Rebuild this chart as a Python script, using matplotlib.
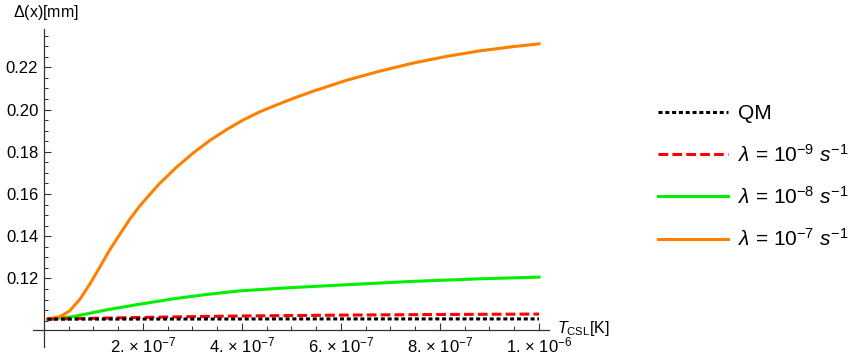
import matplotlib
matplotlib.use('Agg')
import matplotlib.pyplot as plt
from matplotlib.ticker import FixedLocator

plt.rcParams['font.family'] = ['Liberation Sans', 'DejaVu Sans']
plt.rcParams['mathtext.fontset'] = 'custom'
plt.rcParams['mathtext.rm'] = 'Liberation Sans'
plt.rcParams['mathtext.it'] = 'Liberation Sans:italic'
plt.rcParams['lines.scale_dashes'] = False

# T_CSL in units of 1e-7 K, Delta(x) in mm
t_qm = [0.07, 5.0, 10.0]
d_qm = [0.1007, 0.1008, 0.1008]

t_l9 = [0.07, 1.0, 2.0, 3.0, 4.0, 6.0, 8.0, 10.0]
d_l9 = [0.1007, 0.1011, 0.1015, 0.1019, 0.1022, 0.1026, 0.1029, 0.1031]

t_l8 = [0.09, 0.59, 0.93, 1.27, 1.94, 2.61, 3.29, 3.96, 4.97, 6.12, 7.46, 8.81, 10.0]
d_l8 = [0.1007, 0.1019, 0.1035, 0.1051, 0.1078, 0.1103, 0.1124, 0.1141, 0.1156,
        0.1170, 0.1186, 0.1198, 0.1206]

t_l7 = [0.07, 0.32, 0.52, 0.73, 0.93, 1.13, 1.33, 1.54, 1.74, 1.94, 2.14, 2.34,
        2.68, 3.02, 3.35, 3.69, 4.03, 4.36, 4.70, 5.04, 5.44, 6.12, 6.79, 7.46,
        8.14, 8.81, 9.48, 10.0]
d_l7 = [0.1007, 0.1018, 0.1046, 0.1102, 0.1174, 0.1254, 0.1335, 0.1411, 0.1482,
        0.1544, 0.1598, 0.1650, 0.1727, 0.1795, 0.1853, 0.1905, 0.1951, 0.1989,
        0.2022, 0.2053, 0.2087, 0.2139, 0.2182, 0.2220, 0.2252, 0.2278, 0.2298, 0.2311]

x_ticks = [2, 4, 6, 8, 10]
x_ticklabels = [r'2. $\times$ 10$^{-7}$', r'4. $\times$ 10$^{-7}$', r'6. $\times$ 10$^{-7}$',
                r'8. $\times$ 10$^{-7}$', r'1. $\times$ 10$^{-6}$']
y_ticks = [0.12, 0.14, 0.16, 0.18, 0.20, 0.22]
y_ticklabels = ['0.12', '0.14', '0.16', '0.18', '0.20', '0.22']

labels = ['QM', r'$\lambda$ = 10$^{-9}$ $s^{-1}$', r'$\lambda$ = 10$^{-8}$ $s^{-1}$',
          r'$\lambda$ = 10$^{-7}$ $s^{-1}$']

fig = plt.figure(figsize=(8.56, 3.61), dpi=100)
ax = fig.add_axes([33/856, 14/361, 516/856, 317.7/361])

e = 1e-7
ax.plot([t*e for t in t_qm], d_qm, color='black', lw=2.2, dashes=(2.9, 2.0), label=labels[0], zorder=4)
ax.plot([t*e for t in t_l9], d_l9, color='#ff0000', lw=2.2, dashes=(7.0, 3.0), label=labels[1], zorder=3)
ax.plot([t*e for t in t_l8], d_l8, color='#00f000', lw=2.2, label=labels[2], zorder=2)
ax.plot([t*e for t in t_l7], d_l7, color='#ff8000', lw=2.2, label=labels[3], zorder=2)

ax.set_xlim(-0.22e-7, 1.0202e-6)
ax.set_ylim(0.0875, 0.238)

for s in ['top', 'right']:
    ax.spines[s].set_visible(False)
ax.spines['left'].set_position(('data', 0))
ax.spines['bottom'].set_position(('data', 0.0956))
for s in ['left', 'bottom']:
    ax.spines[s].set_linewidth(0.9)
    ax.spines[s].set_color('#333333')

ax.xaxis.set_major_locator(FixedLocator([t*e for t in x_ticks]))
ax.set_xticklabels(x_ticklabels)
ax.xaxis.set_minor_locator(FixedLocator([k*0.5e-7 for k in range(1, 21) if k % 4 != 0]))
ax.yaxis.set_major_locator(FixedLocator(y_ticks))
ax.set_yticklabels(y_ticklabels)
ax.yaxis.set_minor_locator(FixedLocator([0.10 + k*0.005 for k in range(0, 28) if k % 4 != 0 or k == 0]))

ax.tick_params(which='both', direction='in', colors='#333333', labelcolor='black', labelsize=12)
ax.tick_params(which='major', length=5, width=0.8)
ax.tick_params(which='minor', length=3, width=0.7)
ax.tick_params(axis='y', pad=4)
ax.tick_params(axis='x', pad=4)

fig.text(13/856, 1 - 12/361, r'$\Delta$(x)[mm]', fontsize=11.5, ha='left', va='center')
fig.text(557/856, 1 - 329/361, r'$T_{\rm CSL}$[K]', fontsize=11.5, ha='left', va='center')

ax.legend(loc='upper left', bbox_to_anchor=(658/856, 1 - 104/361), bbox_transform=fig.transFigure,
          frameon=False, fontsize=15, handlelength=3.35, handletextpad=0.5,
          labelspacing=0.98, borderpad=0, borderaxespad=0)

fig.savefig('out.png', dpi=100)
